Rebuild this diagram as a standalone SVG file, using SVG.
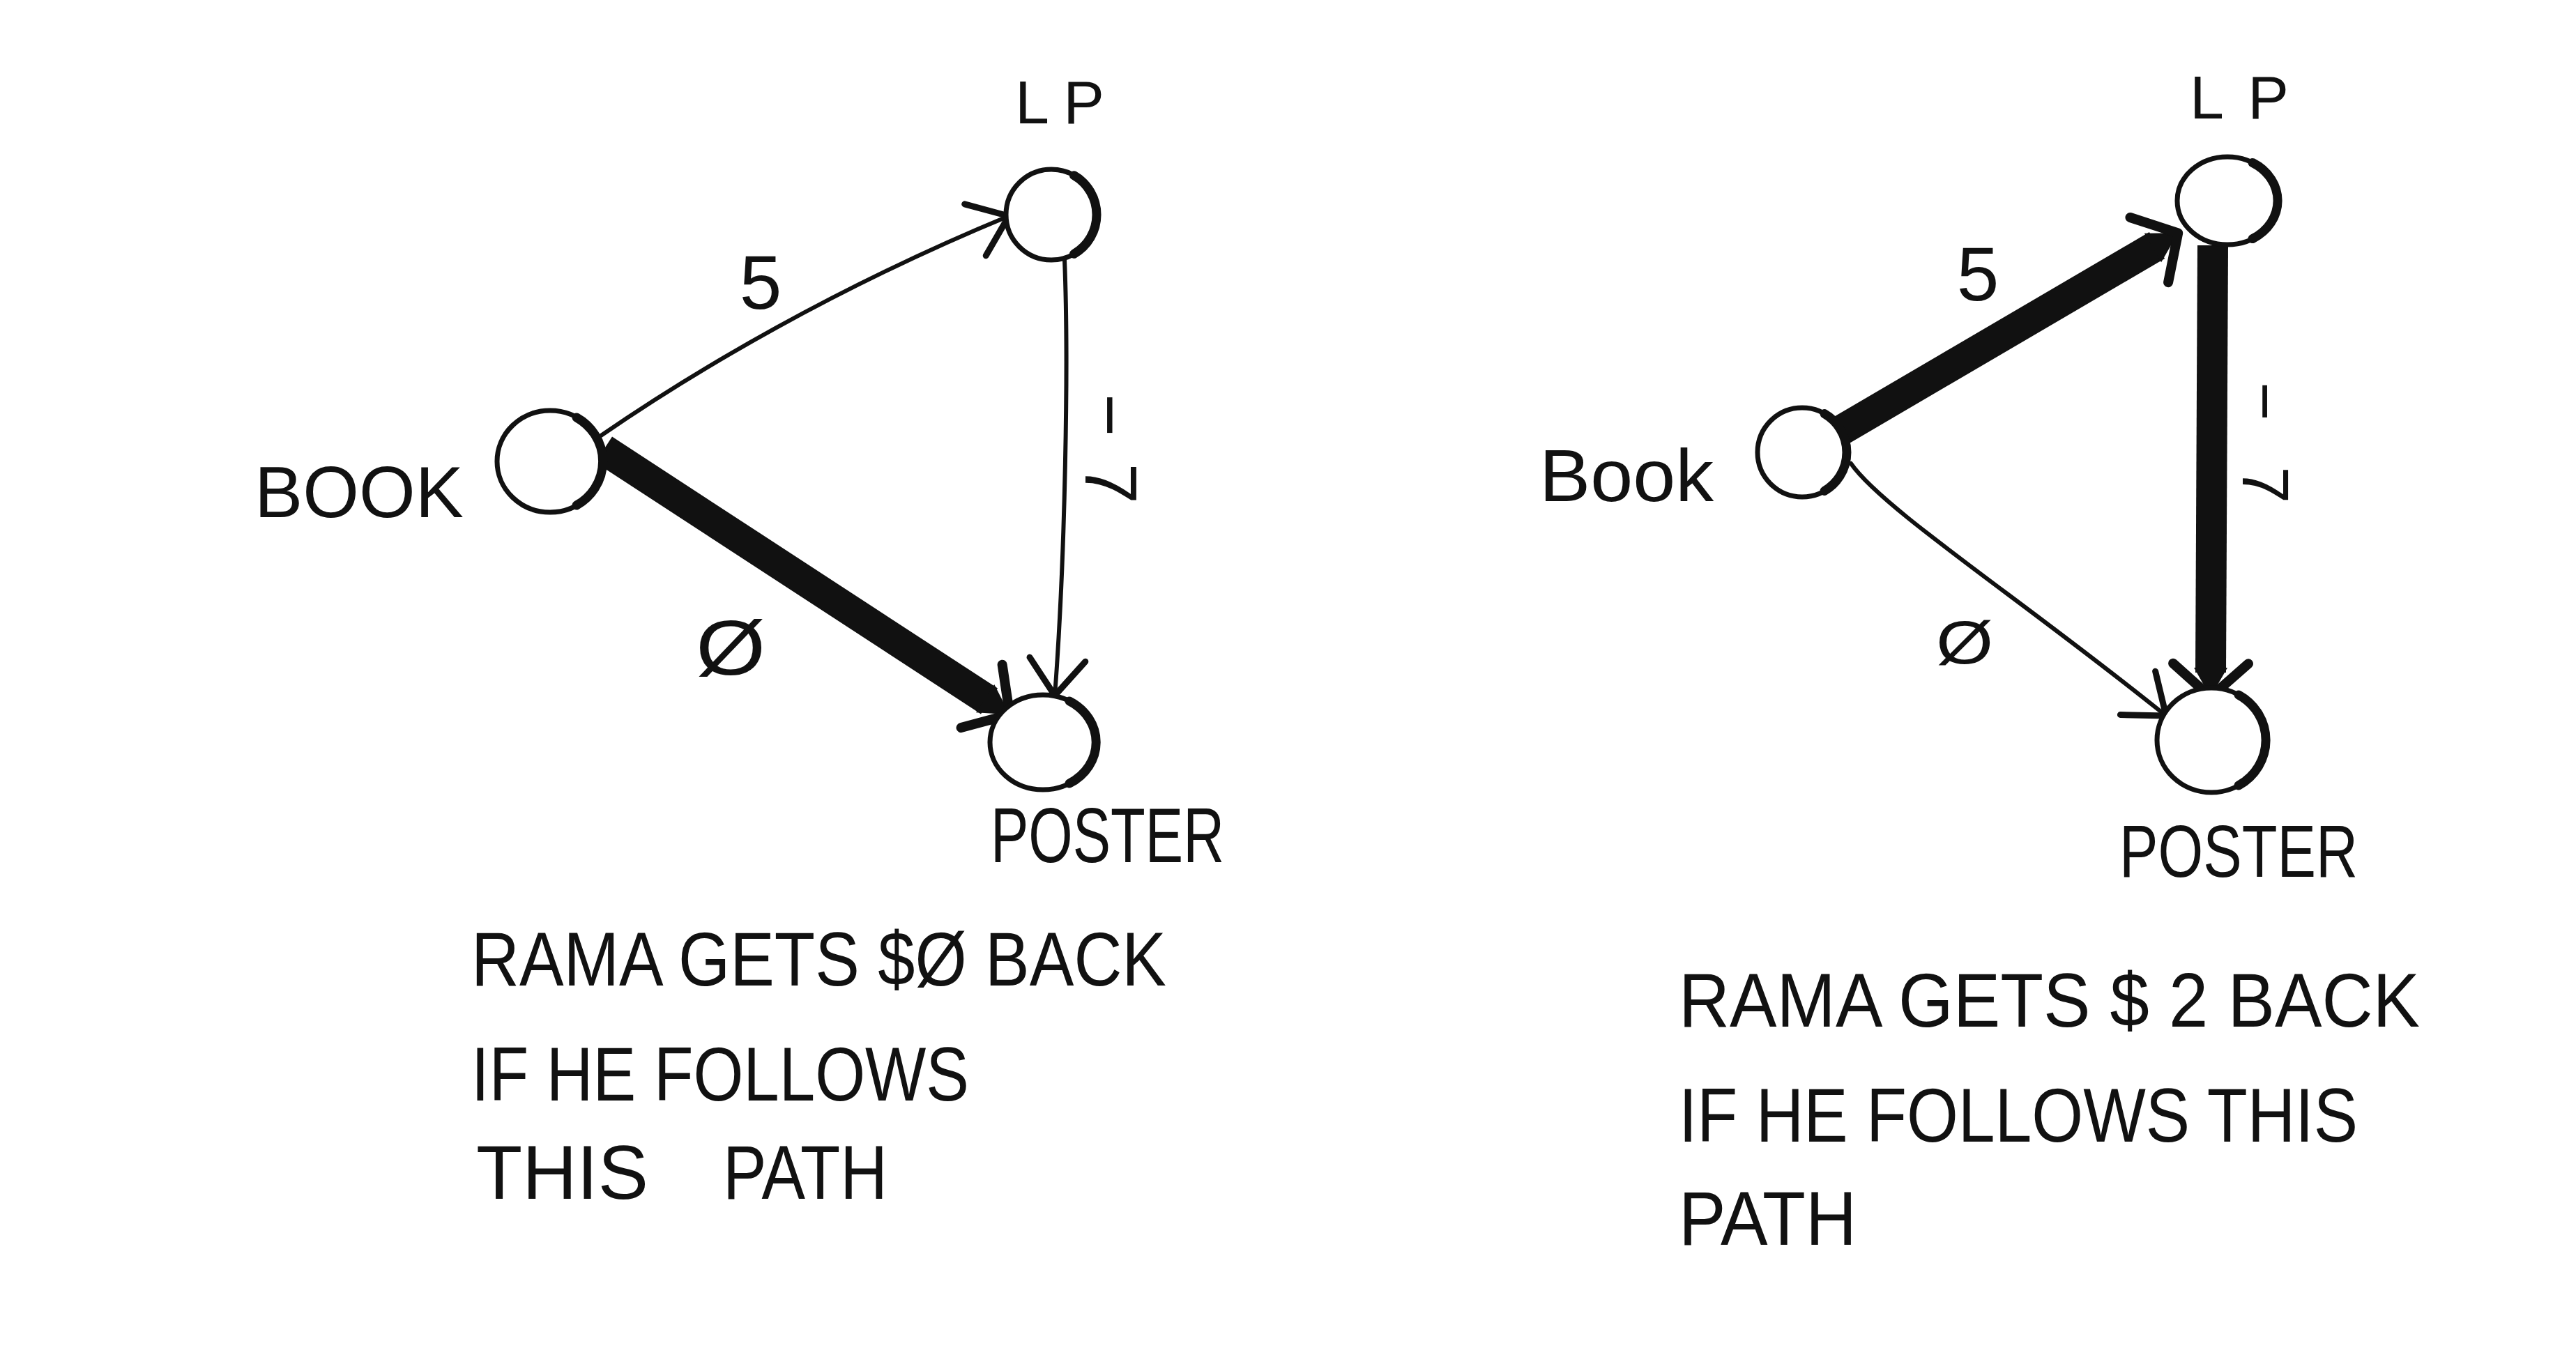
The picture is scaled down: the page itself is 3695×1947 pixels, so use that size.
<svg xmlns="http://www.w3.org/2000/svg" width="3695" height="1947" viewBox="0 0 3695 1947">
<style>
  text { font-family: "Liberation Sans", "DejaVu Sans", sans-serif; fill: #111; }
  .node { fill: #fff; stroke: #111; stroke-width: 7; }
  .heavy { fill: none; stroke: #111; stroke-width: 13; stroke-linecap: round; }
  .thin { fill: none; stroke: #111; stroke-width: 6; stroke-linecap: round; marker-end: url(#open); }
  .thick { fill: none; stroke: #111; stroke-width: 44; stroke-linecap: butt; marker-end: url(#openThick); }
  .cap { font-size: 110px; }
  .lbl { font-size: 104px; }
</style>
<defs>
  <marker id="open" markerUnits="userSpaceOnUse" viewBox="-70 -60 80 120" markerWidth="80" markerHeight="120" refX="0" refY="0" orient="auto" overflow="visible">
    <path d="M-52,-40 L0,0 L-52,40" fill="none" stroke="#111" stroke-width="9" stroke-linecap="round" stroke-linejoin="round"/>
  </marker>
  <marker id="openThick" markerUnits="userSpaceOnUse" viewBox="-80 -70 100 140" markerWidth="100" markerHeight="140" refX="-35" refY="0" orient="auto" overflow="visible">
    <path d="M0,0 L-42,-24 L-42,24 Z" fill="#111"/>
    <path d="M-48,-54 L0,0 L-48,54" fill="none" stroke="#111" stroke-width="14" stroke-linecap="round" stroke-linejoin="round"/>
  </marker>
</defs>
<rect width="3695" height="1947" fill="#fff"/>

<g id="connectors">
  <!-- left diagram -->
  <g id="e-book-lp-left">
    <path class="thin" d="M862,625 C1000,530 1200,412 1447,310"/>
    <text x="1091" y="443" text-anchor="middle" style="font-size:109px">5</text>
  </g>
  <g id="e-lp-poster-left">
    <path class="thin" d="M1527,373 C1533,520 1528,800 1513,998"/>
    <text transform="translate(1557,565) rotate(90)" x="0" y="0" style="font-size:105px" textLength="158" lengthAdjust="spacing">−7</text>
  </g>
  <g id="e-book-poster-left">
    <path class="thick" d="M866,645 L1419,1006"/>
    <text transform="translate(1048,968) scale(1.15,1)" x="0" y="0" text-anchor="middle" style="font-size:112px">Ø</text>
  </g>
  <!-- right diagram -->
  <g id="e-book-lp-right">
    <path class="thick" d="M2640,618 L3094,352"/>
    <text x="2837" y="431" text-anchor="middle" style="font-size:109px">5</text>
  </g>
  <g id="e-lp-poster-right">
    <path class="thick" d="M3174,352 L3171,965"/>
    <text transform="translate(3217,548) rotate(90)" x="0" y="0" style="font-size:95px" textLength="174" lengthAdjust="spacing">−7</text>
  </g>
  <g id="e-book-poster-right">
    <path class="thin" d="M2655,665 C2700,730 2900,860 3107,1027"/>
    <text transform="translate(2818,952) scale(1.2,1)" x="0" y="0" text-anchor="middle" style="font-size:88px">Ø</text>
  </g>
</g>

<g id="node-book-left">
  <ellipse class="node" cx="789" cy="662" rx="76" ry="73"/>
  <path class="heavy" d="M827,599 A76,73 0 0 1 827,725"/>
  <text class="lbl" x="365" y="742" textLength="300" lengthAdjust="spacingAndGlyphs">BOOK</text>
</g>
<g id="node-lp-left">
  <ellipse class="node" cx="1508" cy="308" rx="65" ry="65"/>
  <path class="heavy" d="M1540.5,251.7 A65,65 0 0 1 1540.5,364.3"/>
  <text x="1456" y="177" style="font-size:88px" textLength="128" lengthAdjust="spacing">LP</text>
</g>
<g id="node-poster-left">
  <ellipse class="node" cx="1496" cy="1065" rx="76" ry="68"/>
  <path class="heavy" d="M1534,1006 A76,68 0 0 1 1534,1124"/>
  <text x="1421" y="1237" style="font-size:112px" textLength="335" lengthAdjust="spacingAndGlyphs">POSTER</text>
</g>

<g id="node-book-right">
  <ellipse class="node" cx="2585" cy="649" rx="64" ry="64"/>
  <path class="heavy" d="M2617,593.6 A64,64 0 0 1 2617,704.4"/>
  <text x="2208" y="719" style="font-size:105px" textLength="250" lengthAdjust="spacingAndGlyphs">Book</text>
</g>
<g id="node-lp-right">
  <ellipse class="node" cx="3195" cy="288" rx="72" ry="63"/>
  <path class="heavy" d="M3231,233.4 A72,63 0 0 1 3231,342.6"/>
  <text x="3141" y="170" style="font-size:88px" textLength="142" lengthAdjust="spacing">LP</text>
</g>
<g id="node-poster-right">
  <ellipse class="node" cx="3172" cy="1062" rx="78" ry="75"/>
  <path class="heavy" d="M3211,997 A78,75 0 0 1 3211,1127"/>
  <text x="3040" y="1258" style="font-size:105px" textLength="342" lengthAdjust="spacingAndGlyphs">POSTER</text>
</g>

<g id="caption-left">
  <text class="cap" x="676" y="1414" textLength="997" lengthAdjust="spacingAndGlyphs">RAMA GETS $Ø BACK</text>
  <text class="cap" x="676" y="1579" textLength="714" lengthAdjust="spacingAndGlyphs">IF HE FOLLOWS</text>
  <text class="cap" x="683" y="1720" textLength="247" lengthAdjust="spacingAndGlyphs">THIS</text>
  <text class="cap" x="1037" y="1720" textLength="236" lengthAdjust="spacingAndGlyphs">PATH</text>
</g>
<g id="caption-right">
  <text class="cap" x="2408" y="1473" textLength="1063" lengthAdjust="spacingAndGlyphs">RAMA GETS $ 2 BACK</text>
  <text class="cap" x="2408" y="1638" textLength="974" lengthAdjust="spacingAndGlyphs">IF HE FOLLOWS THIS</text>
  <text class="cap" x="2408" y="1786" textLength="255" lengthAdjust="spacingAndGlyphs">PATH</text>
</g>
</svg>
